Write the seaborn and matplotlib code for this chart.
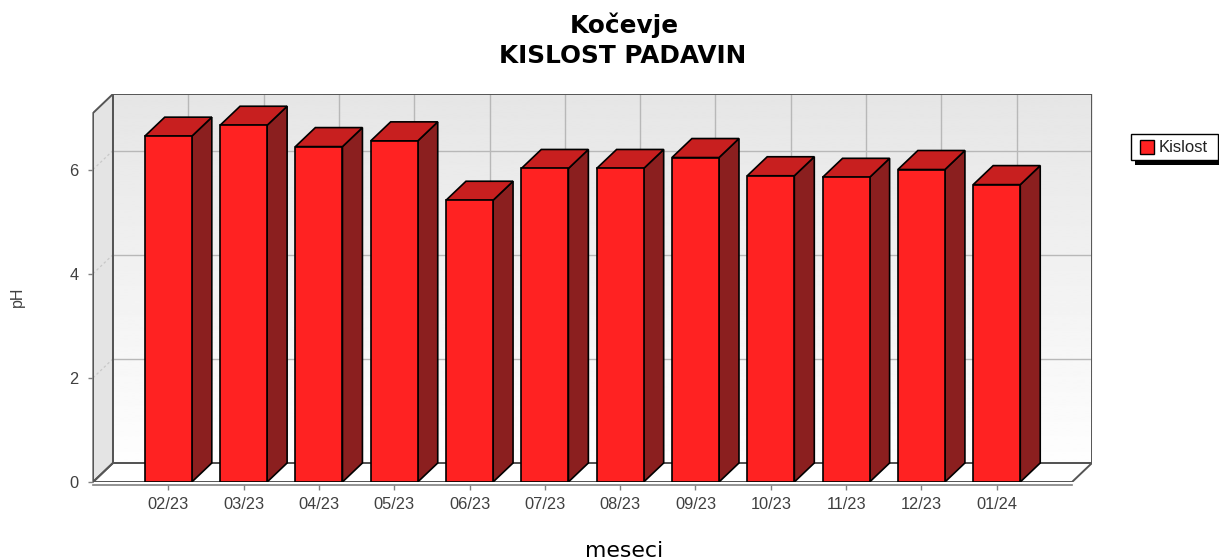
import numpy as np
import pandas as pd
import matplotlib
matplotlib.use("Agg")
import matplotlib.pyplot as plt
from matplotlib.patches import Polygon, Rectangle
import seaborn as sns

# monthly precipitation acidity (pH)
months = ["02/23", "03/23", "04/23", "05/23", "06/23", "07/23",
          "08/23", "09/23", "10/23", "11/23", "12/23", "01/24"]
ph = [6.64, 6.85, 6.44, 6.55, 5.41, 6.02, 6.02, 6.23, 5.88, 5.85, 6.00, 5.71]
y_ticks = [0, 2, 4, 6]
series_name = "Kislost"
title_place = "Kočevje"
title_main = "KISLOST PADAVIN"
x_title = "meseci"
y_title = "pH"

sns.set_theme(style="white")
plt.rcParams["font.family"] = ["Liberation Sans", "DejaVu Sans"]

W, H, DPI = 1219, 560, 100
fig = plt.figure(figsize=(W / DPI, H / DPI), dpi=DPI, facecolor="white")


def fig_box(left, top, width, height):
    """Pixel box measured from the top-left corner -> figure fraction (x, y, w, h)."""
    return left / W, 1 - (top + height) / H, width / W, height / H


# front plane extent and the 3D depth offset, in data units
X_LO, X_HI = -1.0, 12.0
Y_TOP = 7.085
DX, DY = 0.265, 0.365

FRONT = "#ff2222"
TOP = "#c81f1f"
SIDE = "#8b1f1f"
GRID = "#b8b8b8"
FRAME = "#555555"
AXIS = "#808080"

ax = fig.add_axes(fig_box(93, 94, 999, 388))

# back wall with a soft vertical gradient
grad = np.linspace(0.90, 0.995, 256)[:, None]
ax.imshow(grad, cmap="gray", vmin=0, vmax=1, origin="upper", aspect="auto",
          extent=[X_LO + DX, X_HI + DX, DY, Y_TOP + DY],
          interpolation="bilinear", zorder=0)

# gridlines on the back wall
for i in range(len(months)):
    ax.plot([i + DX, i + DX], [DY, Y_TOP + DY], color=GRID, lw=1, zorder=1)
for v in y_ticks:
    ax.plot([X_LO + DX, X_HI + DX], [v + DY, v + DY], color=GRID, lw=1, zorder=1)

# left wall and floor
left_wall = [(X_LO, 0), (X_LO + DX, DY), (X_LO + DX, Y_TOP + DY), (X_LO, Y_TOP)]
floor = [(X_LO, 0), (X_HI, 0), (X_HI + DX, DY), (X_LO + DX, DY)]
ax.add_patch(Polygon(left_wall, closed=True, fc="#e4e4e4", ec="none", zorder=2))
ax.add_patch(Polygon(floor, closed=True, fc="white", ec="none", zorder=2))
for v in y_ticks:
    ax.plot([X_LO, X_LO + DX], [v, v + DY], color="#c8c8c8", lw=0.9,
            ls=(0, (2, 2)), zorder=2.5)

# wall outlines
back_wall = [(X_LO + DX, DY), (X_HI + DX, DY), (X_HI + DX, Y_TOP + DY), (X_LO + DX, Y_TOP + DY)]
for shape in (back_wall, left_wall, floor):
    ax.add_patch(Polygon(shape, closed=True, fill=False, ec=FRAME, lw=1.4,
                         joinstyle="miter", zorder=3))

# bars: front faces from seaborn, then top and side faces from the same rectangles
df = pd.DataFrame({"mesec": months, "pH": ph})
sns.barplot(data=df, x="mesec", y="pH", color=FRONT, saturation=1, width=0.625,
            edgecolor="black", linewidth=1.2, ax=ax, zorder=6)
bars = ax.containers[-1]
for rect in bars:
    x0, w, h = rect.get_x(), rect.get_width(), rect.get_height()
    x1 = x0 + w
    ax.add_patch(Polygon([(x1, 0), (x1 + DX, DY), (x1 + DX, h + DY), (x1, h)],
                         closed=True, fc=SIDE, ec="black", lw=1.2, zorder=5))
    ax.add_patch(Polygon([(x0, h), (x1, h), (x1 + DX, h + DY), (x0 + DX, h + DY)],
                         closed=True, fc=TOP, ec="black", lw=1.2, zorder=5))

ax.set_xlim(X_LO, X_HI + DX)
ax.set_ylim(0, Y_TOP + DY)
ax.set_xticks(range(len(months)), months)
ax.set_yticks(y_ticks)
ax.set_xlabel("")
ax.set_ylabel("")
ax.grid(False)
ax.spines["top"].set_visible(False)
ax.spines["right"].set_visible(False)
ax.spines["bottom"].set_bounds(X_LO, X_HI)
ax.spines["bottom"].set_position(("outward", 2))
ax.spines["left"].set_bounds(0, Y_TOP)
for s in ("bottom", "left"):
    ax.spines[s].set_color(AXIS)
    ax.spines[s].set_linewidth(1.2)
ax.tick_params(axis="both", length=3.5, width=1, color=AXIS,
               labelsize=11.8, labelcolor="#404040")
ax.tick_params(axis="x", pad=5, bottom=True)
ax.tick_params(axis="y", pad=7, left=True)

# titles and axis labels
fig.text(624 / W, 1 - 33 / H, title_place, ha="center", va="baseline",
         fontsize=17.8, fontweight="bold", family=["DejaVu Sans"], color="black")
fig.text(623 / W, 1 - 63 / H, title_main, ha="center", va="baseline",
         fontsize=17.8, fontweight="bold", family=["DejaVu Sans"], color="black")
fig.text(624 / W, 1 - 557 / H, x_title, ha="center", va="baseline",
         fontsize=15.8, family=["DejaVu Sans"], color="black")
fig.text(17 / W, 1 - 297 / H, y_title, ha="center", va="center", rotation=90,
         fontsize=11.5, color="#404040")

# legend box with a hard drop shadow
fig.add_artist(Rectangle(fig_box(1135, 138, 90, 27)[:2], *fig_box(1135, 138, 90, 27)[2:],
                         transform=fig.transFigure, fc="black", ec="none", zorder=10))
fig.add_artist(Rectangle(fig_box(1131, 134, 87, 26)[:2], *fig_box(1131, 134, 87, 26)[2:],
                         transform=fig.transFigure, fc="white", ec="black", lw=1, zorder=11))
fig.add_artist(Rectangle(fig_box(1140, 140, 14, 14)[:2], *fig_box(1140, 140, 14, 14)[2:],
                         transform=fig.transFigure, fc=FRONT, ec="black", lw=1, zorder=12))
fig.text(1159 / W, 1 - 147.5 / H, series_name, ha="left", va="center",
         fontsize=12, color="#222222", zorder=12)

fig.savefig("out.png", dpi=DPI, facecolor="white")
